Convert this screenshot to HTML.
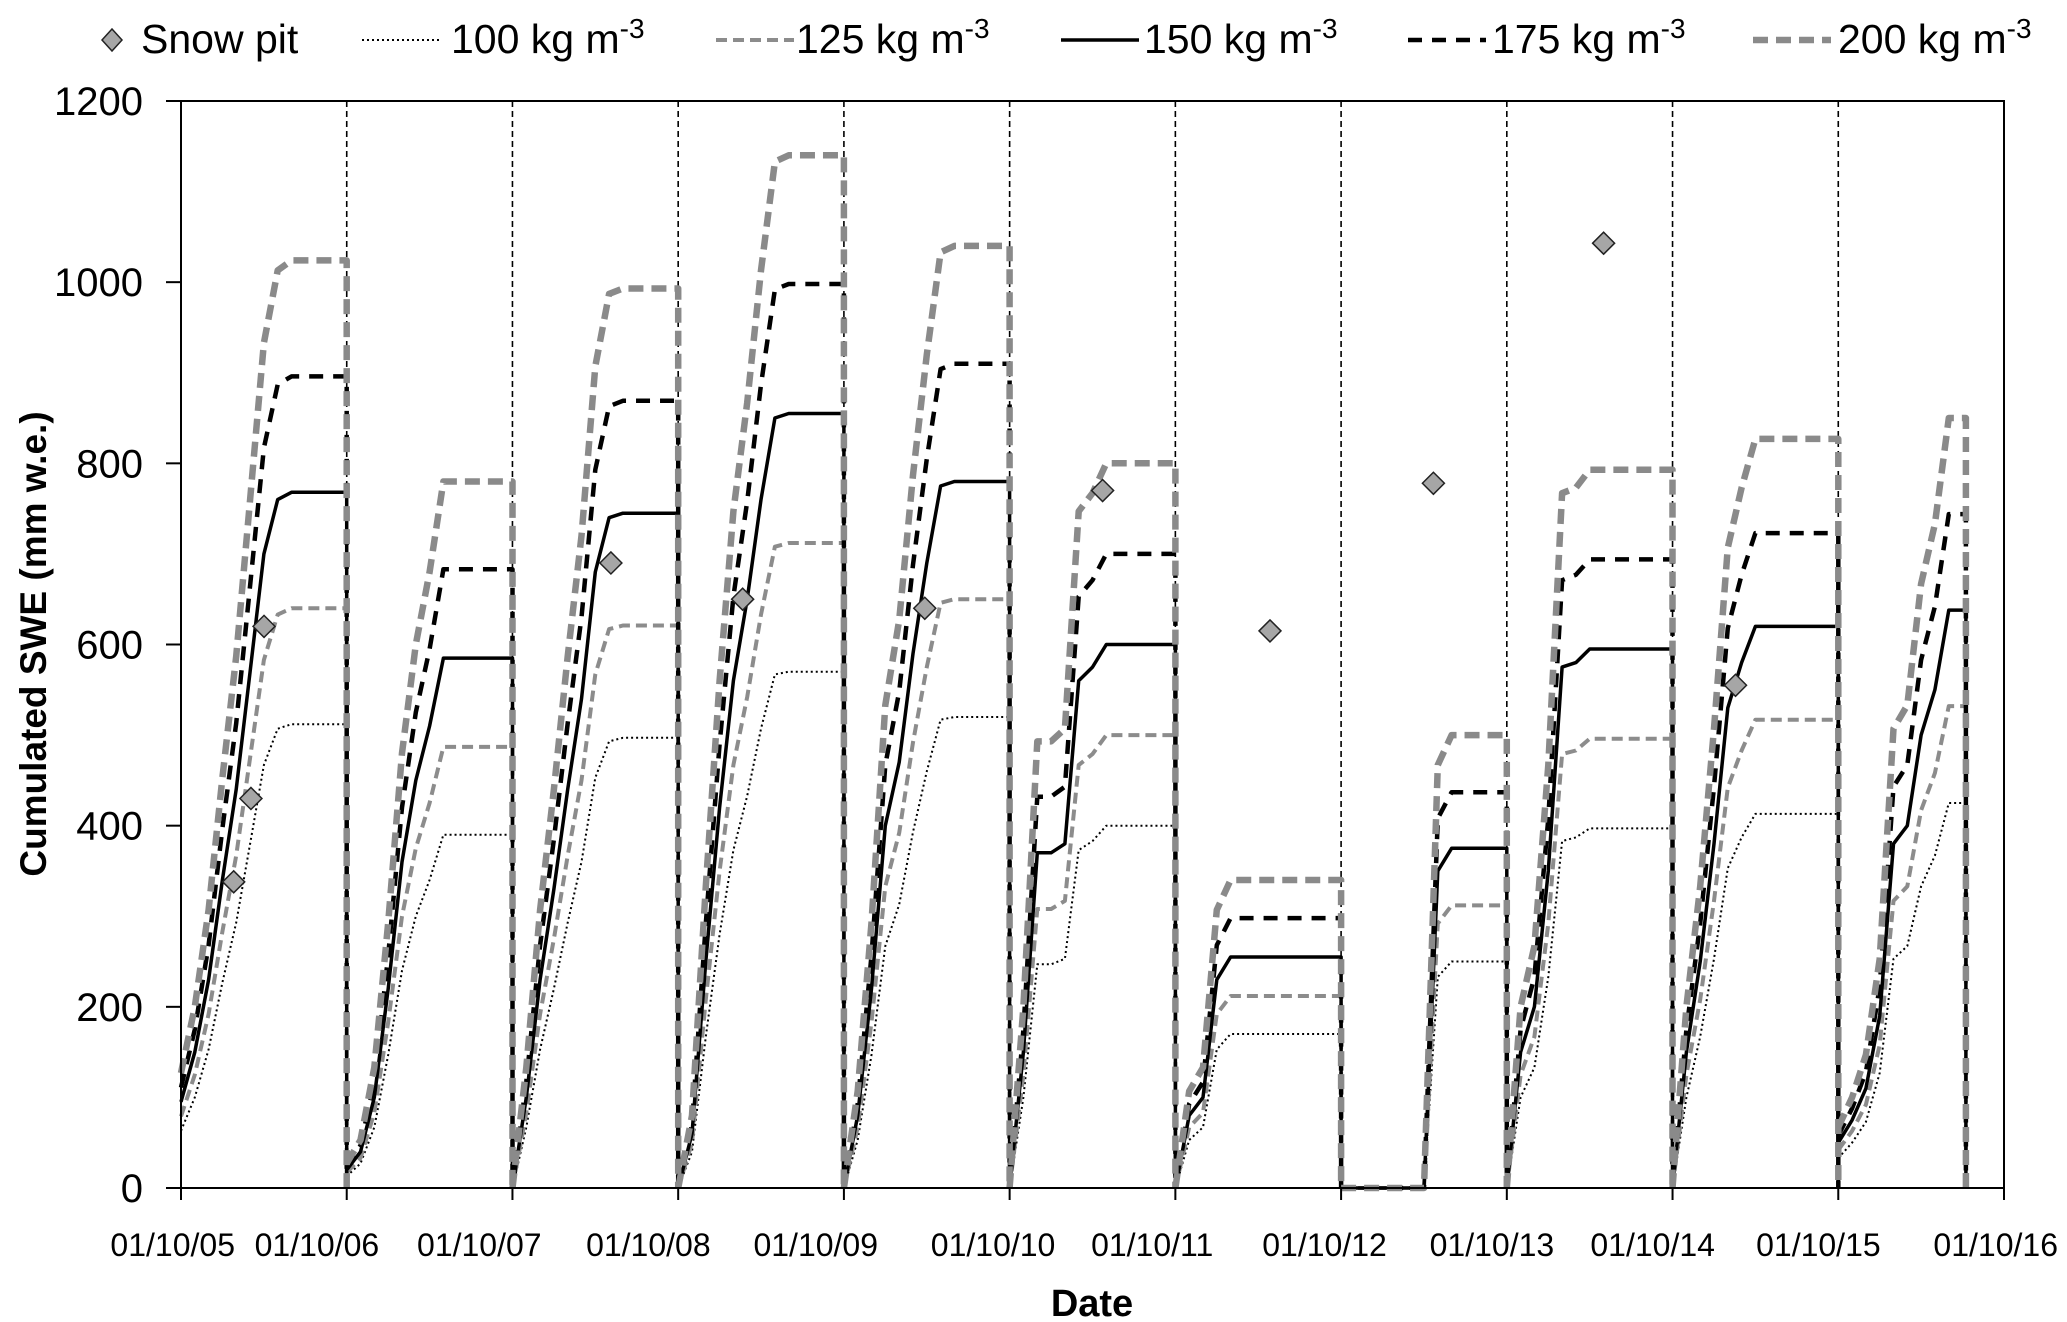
<!DOCTYPE html>
<html><head><meta charset="utf-8"><style>
html,body{margin:0;padding:0;background:#fff;}
svg{display:block;font-family:"Liberation Sans",sans-serif;}
</style></head><body>
<svg id="chart" width="2067" height="1322" viewBox="0 0 2067 1322" xmlns="http://www.w3.org/2000/svg">
<g id="legend"></g>
<g id="grid"></g>
<g id="series"></g>
<g id="axes"></g>
<text transform="translate(46,644) rotate(-90)" text-anchor="middle" font-family="Liberation Sans, sans-serif" font-weight="bold" font-size="37">Cumulated SWE (mm w.e.)</text>
<text x="1092" y="1316" text-anchor="middle" font-family="Liberation Sans, sans-serif" font-weight="bold" font-size="38">Date</text>
</svg>
<script>
// data
const yTicks=[0,200,400,600,800,1000,1200];
const xLabels=["01/10/05","01/10/06","01/10/07","01/10/08","01/10/09","01/10/10","01/10/11","01/10/12","01/10/13","01/10/14","01/10/15","01/10/16"];
const xLabelYears=[-0.05,0.82,1.8,2.82,3.83,4.9,5.86,6.9,7.91,8.88,9.88,10.95];
const seasonEnds=[1,2,3,4,5,6,7,8,9,10,10.77];
const s100=[[63,100,153,227,293,380,467,507,512],[13,27,67,147,240,300,340,390,390],[0,67,153,220,293,360,453,493,497],[0,40,167,280,373,433,507,567,570],[0,53,147,267,313,393,460,517,520],[0,100,247,247,253,373,383,400,400],[0,53,67,153,170,170,170,170,170],[0,0,0,0,0,0,0,233,250],[0,100,133,233,383,387,397,397,397],[0,100,167,253,353,387,413,413,413],[33,50,73,127,253,267,333,367,425]];
const s125=[[79,125,192,283,367,475,583,633,640],[17,33,83,183,300,375,425,487,487],[0,83,192,275,367,450,567,617,621],[0,50,208,350,467,542,633,708,712],[0,67,183,333,392,492,575,646,650],[0,125,308,308,317,467,479,500,500],[0,67,83,192,212,212,212,212,212],[0,0,0,0,0,0,0,292,312],[0,125,167,292,479,483,496,496,496],[0,125,208,317,442,483,517,517,517],[42,63,92,158,317,333,417,458,532]];
const s150=[[95,150,230,340,440,570,700,760,768],[20,40,100,220,360,450,510,585,585],[0,100,230,330,440,540,680,740,745],[0,60,250,420,560,650,760,850,855],[0,80,220,400,470,590,690,775,780],[0,150,370,370,380,560,575,600,600],[0,80,100,230,255,255,255,255,255],[0,0,0,0,0,0,0,350,375],[0,150,200,350,575,580,595,595,595],[0,150,250,380,530,580,620,620,620],[50,75,110,190,380,400,500,550,638]];
const s175=[[111,175,268,397,513,665,817,887,896],[23,47,117,257,420,525,595,683,683],[0,117,268,385,513,630,793,863,869],[0,70,292,490,653,758,887,992,998],[0,93,257,467,548,688,805,904,910],[0,175,432,432,443,653,671,700,700],[0,93,117,268,298,298,298,298,298],[0,0,0,0,0,0,0,408,437],[0,175,233,408,671,677,694,694,694],[0,175,292,443,618,677,723,723,723],[58,88,128,222,443,467,583,642,744]];
const s200=[[127,200,307,453,587,760,933,1013,1024],[27,53,133,293,480,600,680,780,780],[0,133,307,440,587,720,907,987,993],[0,80,333,560,747,867,1013,1133,1140],[0,107,293,533,627,787,920,1033,1040],[0,200,493,493,507,747,767,800,800],[0,107,133,307,340,340,340,340,340],[0,0,0,0,0,0,0,467,500],[0,200,267,467,767,773,793,793,793],[0,200,333,507,707,773,827,827,827],[67,100,147,253,507,533,667,733,850]];
const pitYears=[0.318,0.422,0.501,2.594,3.389,4.488,5.561,6.571,7.557,8.584,9.380];
const pitValues=[338,430,620,690,650,640,770,615,778,1043,555];

const NS="http://www.w3.org/2000/svg";
const X0=181,X1=2004,Y0=1188,Y1=101;
const xs=t=>X0+(X1-X0)*t/11;
const ys=v=>Y0-(Y0-Y1)*v/1200;
function mk(tag,attrs,parent){const e=document.createElementNS(NS,tag);for(const k in attrs)e.setAttribute(k,attrs[k]);parent.appendChild(e);return e;}
const grid=document.getElementById('grid'),axes=document.getElementById('axes'),ser=document.getElementById('series'),leg=document.getElementById('legend');

for(let i=1;i<11;i++){const l=mk('line',{x1:xs(i),x2:xs(i),y1:Y1,y2:Y0,stroke:'#000','stroke-width':1.6,'stroke-dasharray':'6,4'},grid);

}

const styles=[
 {d:s100,name:'series-100',stroke:'#000',w:2,dash:'2,3'},
 {d:s125,name:'series-125',stroke:'#8c8c8c',w:4,dash:'11,6'},
 {d:s150,name:'series-150',stroke:'#000',w:3.5,dash:''},
 {d:s175,name:'series-175',stroke:'#000',w:4.5,dash:'14,10'},
 {d:s200,name:'series-200',stroke:'#8a8a8a',w:6.5,dash:'15,8'}];
styles.forEach(st=>{
  let p='';
  st.d.forEach((season,s)=>{
    season.forEach((v,m)=>{p+=(m===0?'M':'L')+xs(s+m/12).toFixed(1)+','+ys(v).toFixed(1)+' ';});
    const end=seasonEnds[s];
    p+='L'+xs(end).toFixed(1)+','+ys(season[season.length-1]).toFixed(1)+' L'+xs(end).toFixed(1)+','+ys(0).toFixed(1)+' ';
  });
  const path=mk('path',{d:p,fill:'none',stroke:st.stroke,'stroke-width':st.w,'stroke-dasharray':st.dash,'stroke-linejoin':'round'},ser);
  
  
});
pitValues.forEach((v,i)=>{const cx=xs(pitYears[i]),cy=ys(v);
  const d=mk('path',{d:`M${cx-11},${cy} L${cx},${cy-11} L${cx+11},${cy} L${cx},${cy+11} Z`,fill:'#a6a6a6',stroke:'#222','stroke-width':1.5},ser);
  
  });

const fr=mk('rect',{x:X0,y:Y1,width:X1-X0,height:Y0-Y1,fill:'none',stroke:'#000','stroke-width':2},axes);


yTicks.forEach(v=>{
  mk('line',{x1:X0-15,x2:X0,y1:ys(v),y2:ys(v),stroke:'#000','stroke-width':2},axes);
  const t=mk('text',{x:X0-38,y:ys(v)+14,'text-anchor':'end','font-size':40,fill:'#000'},axes);
  t.textContent=v;
  
  
});
for(let i=0;i<=11;i++) mk('line',{x1:xs(i),x2:xs(i),y1:Y0,y2:Y0+12,stroke:'#000','stroke-width':2},axes);
xLabels.forEach((lab,i)=>{
  const t=mk('text',{x:xs(xLabelYears[i]),y:1256,'text-anchor':'middle','font-size':32,fill:'#000'},axes);
  t.textContent=lab;
  
  
});

const legItems=[
 {x:362,tx:451,label:'100',st:styles[0]},
 {x:716,tx:796,label:'125',st:styles[1]},
 {x:1061,tx:1144,label:'150',st:styles[2]},
 {x:1408,tx:1492,label:'175',st:styles[3]},
 {x:1753,tx:1838,label:'200',st:styles[4]}];
const pd=mk('path',{d:'M102,40 L112,29 L122,40 L112,51 Z',fill:'#a6a6a6',stroke:'#222','stroke-width':1.5},leg);


const pt=mk('text',{x:141,y:53,'font-size':41,fill:'#000'},leg);
pt.textContent='Snow pit';


legItems.forEach(it=>{
  mk('line',{x1:it.x,x2:it.x+78,y1:40,y2:40,stroke:it.st.stroke,'stroke-width':it.st.w,'stroke-dasharray':it.st.dash},leg);
  const t=mk('text',{x:it.tx,y:53,'font-size':41,fill:'#000'},leg);
  t.innerHTML=it.label+' kg m<tspan dy="-15" font-size="28">-3</tspan>';
  
  
});
</script>
</body></html>
